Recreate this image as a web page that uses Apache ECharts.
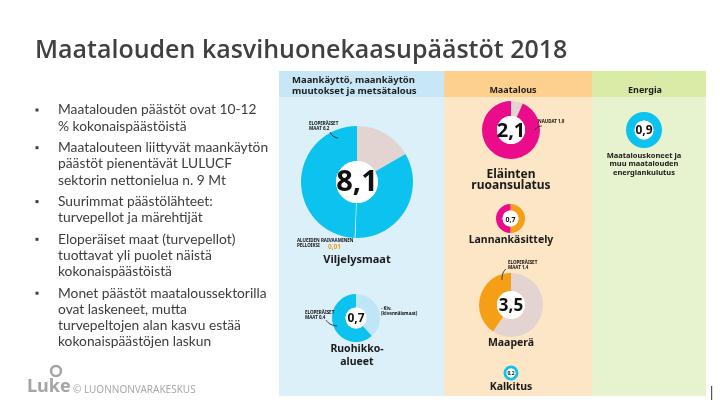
<!DOCTYPE html>
<html><head><meta charset="utf-8">
<script src="https://cdn.jsdelivr.net/npm/echarts@6/dist/echarts.min.js"></script>
<style>html,body{margin:0;padding:0;background:#fff}#c{width:720px;height:405px}</style>
</head><body><div id="c"></div>
<script>
const titleText = "Maatalouden kasvihuonekaasupäästöt 2018";
const bullets = [
  ["Maatalouden päästöt ovat 10-12", "% kokonaispäästöistä"],
  ["Maatalouteen liittyvät maankäytön", "päästöt pienentävät LULUCF", "sektorin nettonielua n. 9 Mt"],
  ["Suurimmat päästölähteet:", "turvepellot ja märehtijät"],
  ["Eloperäiset maat (turvepellot)", "tuottavat yli puolet näistä", "kokonaispäästöistä"],
  ["Monet päästöt maataloussektorilla", "ovat laskeneet, mutta", "turvepeltojen alan kasvu estää", "kokonaispäästöjen laskun"]
];
const sectors = ["Maankäyttö, maankäytön\nmuutokset ja metsätalous", "Maatalous", "Energia"];
const sourceNames = ["Viljelysmaat", "Ruohikko-\nalueet", "Eläinten\nruoansulatus", "Lannankäsittely", "Maaperä", "Kalkitus", "Maatalouskoneet ja\nmuu maatalouden\nenergiankulutus"];
const totals = ["8,1", "0,7", "2,1", "0,7", "3,5", "0,2", "0,9"];
const viljelysmaatValues = [1.35, 2.75, 0.01, 4.0];
const ruohikkoValues = [0.27, 0.43];
const ruoansulatusValues = [0.14, 1.96];
const lannanValues = [0.35, 0.35];
const maaperaValues = [2.08, 1.42];
const kalkitusValues = [0.2];
const energiaValues = [0.9];
const noteTexts = ["ELOPERÄISET\nMAAT 6,2", "ALUEIDEN RAIVAAMINEN\nPELLOIKSI", "0,01", "ELOPERÄISET\nMAAT 0,4", "- Kiv.\n(kivennäismaat)", "NAUDAT 1,9", "ELOPERÄISET\nMAAT 1,4"];
const footerText = "© LUONNONVARAKESKUS";

const BLUE = '#0cc2ee', GREY = '#e3d3d1', MAG = '#ea0c8b', ORA = '#f59f16', LBLUE = '#bfe6f7';
const chart = echarts.init(document.getElementById('c'), null, {renderer: 'canvas'});

// donut layout: [center x, center y, inner r, outer r, colors, values]
const pies = [
  [357, 182, 21, 56, [GREY, BLUE, '#d8eef7', BLUE], viljelysmaatValues],
  [356, 318, 10.5, 24, [LBLUE, BLUE], ruohikkoValues],
  [511, 130, 14, 29, [GREY, MAG], ruoansulatusValues],
  [510.5, 218.5, 8, 14.5, [ORA, MAG], lannanValues],
  [511, 305, 14, 32, [GREY, ORA], maaperaValues],
  [511, 373, 4.5, 7.5, [BLUE], kalkitusValues],
  [644, 130, 9.5, 18, [BLUE], energiaValues]
];
const series = pies.map((p, si) => ({
  type: 'pie', silent: true, animation: false, startAngle: 90, clockwise: true,
  center: [p[0], p[1]], radius: [p[2], p[3]], label: {show: false}, labelLine: {show: false},
  itemStyle: {borderWidth: 0},
  data: p[5].map((v, i) => ({value: v, itemStyle: (si === 0 && i === 2)
    ? {color: '#e6f5fb', borderColor: '#e6f5fb', borderWidth: 0.6}
    : {color: p[4][i]}}))
}));

const g = [];
// backgrounds
g.push({type: 'rect', shape: {x: 279, y: 71, width: 165, height: 26}, style: {fill: '#c7e7f6'}, z: 0});
g.push({type: 'rect', shape: {x: 444, y: 71, width: 148, height: 26}, style: {fill: '#fdd18d'}, z: 0});
g.push({type: 'rect', shape: {x: 592, y: 71, width: 114, height: 26}, style: {fill: '#d9eba7'}, z: 0});
g.push({type: 'rect', shape: {x: 279, y: 97, width: 165, height: 299}, style: {fill: '#dcf0f9'}, z: 0});
g.push({type: 'rect', shape: {x: 444, y: 97, width: 148, height: 299}, style: {fill: '#fde6c6'}, z: 0});
g.push({type: 'rect', shape: {x: 592, y: 97, width: 114, height: 299}, style: {fill: '#e7f2cf'}, z: 0});
// headers
g.push({type: 'text', x: 292, y: 75, style: {text: sectors[0], font: 'bold 9.5px "Noto Sans"', fill: '#1e1e1e', lineHeight: 11}, z: 5});
g.push({type: 'text', x: 513, y: 90, style: {text: sectors[1], font: 'bold 9px "Noto Sans"', fill: '#1e1e1e', align: 'center', verticalAlign: 'middle'}, z: 5});
g.push({type: 'text', x: 645, y: 90, style: {text: sectors[2], font: 'bold 9px "Noto Sans"', fill: '#1e1e1e', align: 'center', verticalAlign: 'middle'}, z: 5});
// white centers and values
const valFonts = [29, 12, 20, 7, 17, 5, 12];
pies.forEach((p, i) => {
  g.push({type: 'circle', shape: {cx: p[0], cy: p[1], r: p[2]}, style: {fill: '#fff'}, z: 50});
  g.push({type: 'text', x: p[0], y: p[1] + 1, style: {text: totals[i], font: 'bold ' + valFonts[i] + 'px "Noto Sans"', fill: '#111', align: 'center', verticalAlign: 'middle'}, z: 60});
});
// source names
const namePos = [[357, 260, 11, 13], [357, 356, 10.5, 13], [511, 180, 12, 11], [511, 240, 10.5, 12], [511, 343, 10.5, 12], [511, 387, 10.5, 12], [644, 164, 7.5, 8.5]];
namePos.forEach((n, i) => {
  g.push({type: 'text', x: n[0], y: n[1], style: {text: sourceNames[i], font: 'bold ' + n[2] + 'px "Noto Sans"', fill: '#1a1a1a', align: 'center', verticalAlign: 'middle', lineHeight: n[3]}, z: 5});
});
// small notes
const notePos = [[309, 126, '#111', 4.5], [297, 243, '#111', 4.5], [328, 247, ORA, 6.5], [305, 315, '#111', 4.5], [381, 311, '#111', 4.5], [538, 122, '#111', 4.5], [508, 265, '#111', 4.5]];
notePos.forEach((n, i) => {
  g.push({type: 'text', x: n[0], y: n[1], style: {text: noteTexts[i], font: 'bold ' + n[3] + 'px "Noto Sans"', fill: n[2], verticalAlign: 'middle', lineHeight: 5.5}, z: 70});
});
const pointers = [[[330, 132], [333, 136], [338, 138]], [[326, 320], [330, 324], [337, 326]], [[535, 130], [538, 127], [542, 126]], [[506, 269], [503, 273], [502, 280]]];
pointers.forEach(pts => g.push({type: 'polyline', shape: {points: pts, smooth: 0.5}, style: {stroke: '#111', lineWidth: 0.8, fill: null}, z: 70}));
// left text
g.push({type: 'text', x: 35, y: 51, style: {text: titleText, font: '600 25px "Open Sans"', fill: '#404040', verticalAlign: 'middle'}, z: 5});
let y = 110;
bullets.forEach(b => {
  g.push({type: 'rect', shape: {x: 35.5, y: y - 1.5, width: 3, height: 3}, style: {fill: '#404040'}, z: 5});
  b.forEach(line => {
    g.push({type: 'text', x: 58, y: y, style: {text: line, font: '13.8px Lato', fill: '#3c3c3c', verticalAlign: 'middle'}, z: 5});
    y += 16.2;
  });
  y += 5.3;
});
// footer
g.push({type: 'text', x: 27, y: 387, style: {text: 'Luke', font: 'bold 18px "Noto Sans"', fill: '#a5a5a5', verticalAlign: 'middle'}, z: 5});
g.push({type: 'circle', shape: {cx: 56, cy: 371, r: 5}, style: {fill: null, stroke: '#a5a5a5', lineWidth: 2.5}, z: 5});
g.push({type: 'text', x: 73, y: 390, style: {text: footerText, font: '10px "Noto Sans"', fill: '#a8a8a8', verticalAlign: 'middle'}, z: 5});
g.push({type: 'rect', shape: {x: 711, y: 386, width: 1.2, height: 14}, style: {fill: '#555'}, z: 5});

chart.setOption({animation: false, graphic: {elements: g}, series: series});
</script></body></html>
